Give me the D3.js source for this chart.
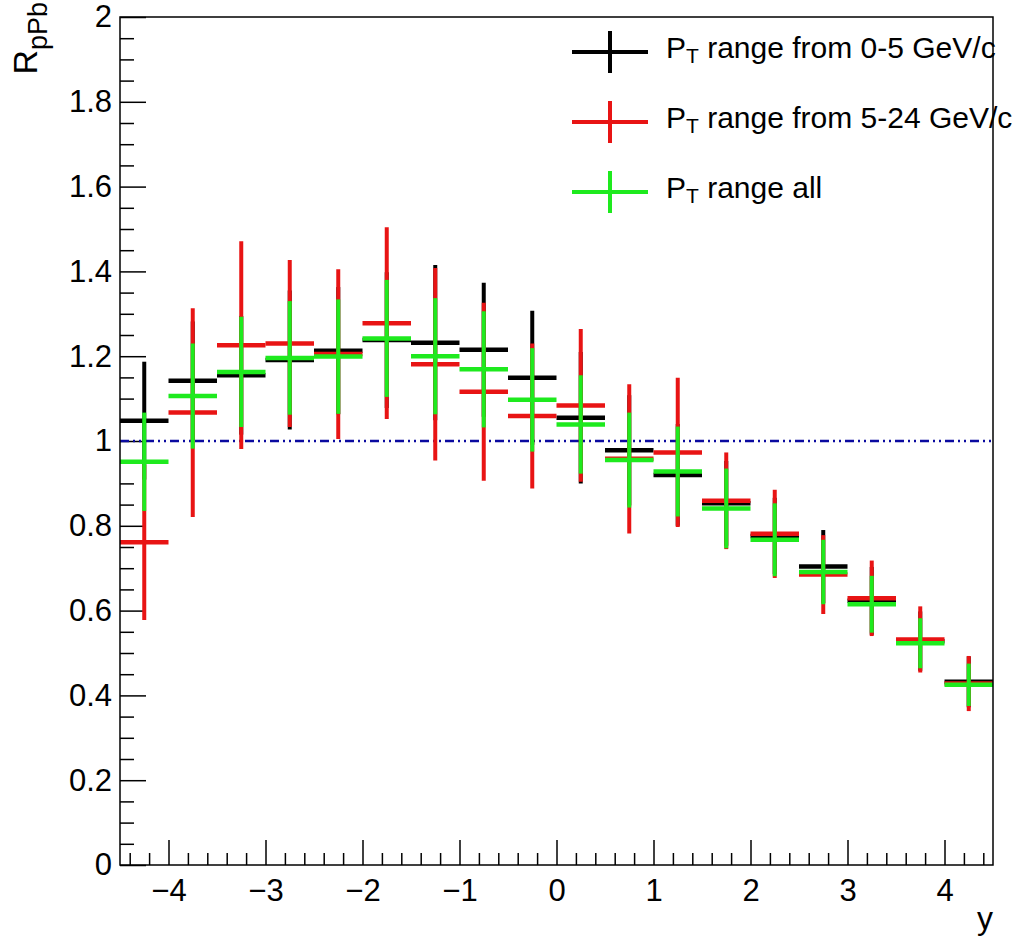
<!DOCTYPE html>
<html>
<head>
<meta charset="utf-8">
<script src="https://cdn.jsdelivr.net/npm/d3@7"></script>
<style>
  html, body { margin: 0; padding: 0; background: #fff; }
  svg { display: block; }
  text { font-family: "Liberation Sans", Arial, Helvetica, sans-serif; fill: #000; }
</style>
</head>
<body>
<svg id="chart" width="1016" height="939"></svg>
<script>
// ---- data ----
const binCenters = [-4.25, -3.75, -3.25, -2.75, -2.25, -1.75, -1.25, -0.75, -0.25,
                     0.25,  0.75,  1.25,  1.75,  2.25,  2.75,  3.25,  3.75,  4.25];
const binHalfWidth = 0.25;

const ptLowValues  = [1.048, 1.142, 1.155, 1.191, 1.213, 1.238, 1.232, 1.215, 1.149,
                      1.055, 0.978, 0.920, 0.853, 0.776, 0.704, 0.623, 0.528, 0.432];
const ptLowErrors  = [0.139, 0.140, 0.140, 0.164, 0.150, 0.160, 0.183, 0.158, 0.158,
                      0.155, 0.130, 0.120, 0.100, 0.090, 0.086, 0.080, 0.070, 0.060];

const ptHighValues = [0.761, 1.067, 1.226, 1.230, 1.205, 1.278, 1.181, 1.116, 1.059,
                      1.084, 0.958, 0.973, 0.859, 0.781, 0.685, 0.629, 0.532, 0.428];
const ptHighErrors = [0.183, 0.246, 0.245, 0.197, 0.200, 0.226, 0.227, 0.210, 0.171,
                      0.180, 0.176, 0.176, 0.114, 0.104, 0.093, 0.089, 0.078, 0.065];

const ptAllValues  = [0.951, 1.106, 1.163, 1.196, 1.199, 1.242, 1.200, 1.169, 1.097,
                      1.039, 0.955, 0.928, 0.841, 0.767, 0.691, 0.615, 0.523, 0.425];
const ptAllErrors  = [0.116, 0.124, 0.130, 0.134, 0.135, 0.138, 0.137, 0.137, 0.122,
                      0.116, 0.112, 0.106, 0.094, 0.086, 0.076, 0.067, 0.059, 0.050];

const seriesNames  = ["range from 0-5 GeV/c", "range from 5-24 GeV/c", "range all"];
const xTicks = [-4, -3, -2, -1, 0, 1, 2, 3, 4];
const xTickLabels = ["\u22124", "\u22123", "\u22122", "\u22121", "0", "1", "2", "3", "4"];
const yTicks = [0, 0.2, 0.4, 0.6, 0.8, 1, 1.2, 1.4, 1.6, 1.8, 2];
const yTickLabels = ["0", "0.2", "0.4", "0.6", "0.8", "1", "1.2", "1.4", "1.6", "1.8", "2"];
const referenceLevel = 1;

// ---- layout ----
const L = 120, R = 993, T = 17, B = 865;
const svg = d3.select("#chart");
const x = d3.scaleLinear().domain([-4.5, 4.5]).range([L, R]);
const y = d3.scaleLinear().domain([0, 2]).range([B, T]);

const series = [
  { name: seriesNames[0], values: ptLowValues,  errors: ptLowErrors,  color: "#000000" },
  { name: seriesNames[1], values: ptHighValues, errors: ptHighErrors, color: "#e81414" },
  { name: seriesNames[2], values: ptAllValues,  errors: ptAllErrors,  color: "#1eea1e" }
];

// ---- axes (ticks inside frame) ----
const fontTick = 31;
const xMinor = d3.range(-4.4, 4.5, 0.2).map(v => +v.toFixed(2)).filter(v => Math.abs(v - Math.round(v)) > 1e-6);
const yMinor = d3.range(0.05, 2, 0.05).map(v => +v.toFixed(2)).filter(v => Math.abs(v * 5 - Math.round(v * 5)) > 1e-6);

svg.append("g").attr("transform", `translate(0,${B})`)
  .call(d3.axisBottom(x).tickValues(xMinor).tickFormat("").tickSizeInner(-12).tickSizeOuter(0))
  .call(g => g.select(".domain").remove())
  .selectAll("line").attr("stroke", "#000").attr("stroke-width", 1.5);

svg.append("g").attr("transform", `translate(0,${B})`)
  .call(d3.axisBottom(x).tickValues(xTicks).tickFormat((d, i) => xTickLabels[i])
        .tickSizeInner(-25).tickSizeOuter(0).tickPadding(14))
  .call(g => g.select(".domain").remove())
  .call(g => g.selectAll("line").attr("stroke", "#000").attr("stroke-width", 1.5))
  .call(g => g.selectAll("text").attr("font-size", fontTick)
        .style("font-family", "'Liberation Sans', Arial, sans-serif").attr("fill", "#000"));

svg.append("g").attr("transform", `translate(0,0)`).attr("transform", `translate(${L},0)`)
  .call(d3.axisLeft(y).tickValues(yMinor).tickFormat("").tickSizeInner(-14).tickSizeOuter(0))
  .call(g => g.select(".domain").remove())
  .selectAll("line").attr("stroke", "#000").attr("stroke-width", 1.5);

svg.append("g").attr("transform", `translate(${L},0)`)
  .call(d3.axisLeft(y).tickValues(yTicks).tickFormat((d, i) => yTickLabels[i])
        .tickSizeInner(-26).tickSizeOuter(0).tickPadding(8))
  .call(g => g.select(".domain").remove())
  .call(g => g.selectAll("line").attr("stroke", "#000").attr("stroke-width", 1.5))
  .call(g => g.selectAll("text").attr("font-size", fontTick)
        .style("font-family", "'Liberation Sans', Arial, sans-serif").attr("fill", "#000"));

// ---- reference line ----
svg.append("line")
  .attr("x1", x(-4.5)).attr("x2", x(4.5))
  .attr("y1", y(referenceLevel)).attr("y2", y(referenceLevel))
  .attr("stroke", "#0a0aa0").attr("stroke-width", 2.5)
  .attr("stroke-dasharray", "9 4 2 4 2 4");

// ---- data crosses ----
series.forEach(s => {
  const g = svg.append("g");
  const data = binCenters.map((c, i) => ({ c, v: s.values[i], e: s.errors[i] }));
  g.selectAll("line.h").data(data).join("line").attr("class", "h")
    .attr("x1", d => x(d.c - binHalfWidth)).attr("x2", d => x(d.c + binHalfWidth))
    .attr("y1", d => y(d.v)).attr("y2", d => y(d.v))
    .attr("stroke", s.color).attr("stroke-width", 4.5);
  g.selectAll("line.v").data(data).join("line").attr("class", "v")
    .attr("x1", d => x(d.c)).attr("x2", d => x(d.c))
    .attr("y1", d => y(d.v - d.e)).attr("y2", d => y(d.v + d.e))
    .attr("stroke", s.color).attr("stroke-width", 4);
});

// ---- legend ----
const legY = [52, 122, 192];
series.forEach((s, i) => {
  const cy = legY[i];
  svg.append("line").attr("x1", 572).attr("x2", 648).attr("y1", cy).attr("y2", cy)
    .attr("stroke", s.color).attr("stroke-width", 4);
  svg.append("line").attr("x1", 610).attr("x2", 610).attr("y1", cy - 21).attr("y2", cy + 21)
    .attr("stroke", s.color).attr("stroke-width", 4);
  const t = svg.append("text").attr("x", 666).attr("y", cy + 6).attr("font-size", 30);
  t.append("tspan").text("P");
  t.append("tspan").attr("font-size", 21).attr("dy", 5).text("T");
  t.append("tspan").attr("dy", -5).text(" " + s.name);
});

// ---- frame (drawn over the legend text, as in the reference) ----
svg.append("rect").attr("x", L).attr("y", T).attr("width", R - L).attr("height", B - T)
  .attr("fill", "none").attr("stroke", "#000").attr("stroke-width", 1.5);

// ---- axis titles ----
svg.append("text").attr("x", R).attr("y", 929).attr("text-anchor", "end")
  .attr("font-size", 32).text("y");

const yt = svg.append("text").attr("transform", "translate(37,2) rotate(-90)")
  .attr("text-anchor", "end").attr("font-size", 34);
yt.append("tspan").text("R");
yt.append("tspan").attr("font-size", 27).attr("dy", 10).text("pPb");
</script>
</body>
</html>
